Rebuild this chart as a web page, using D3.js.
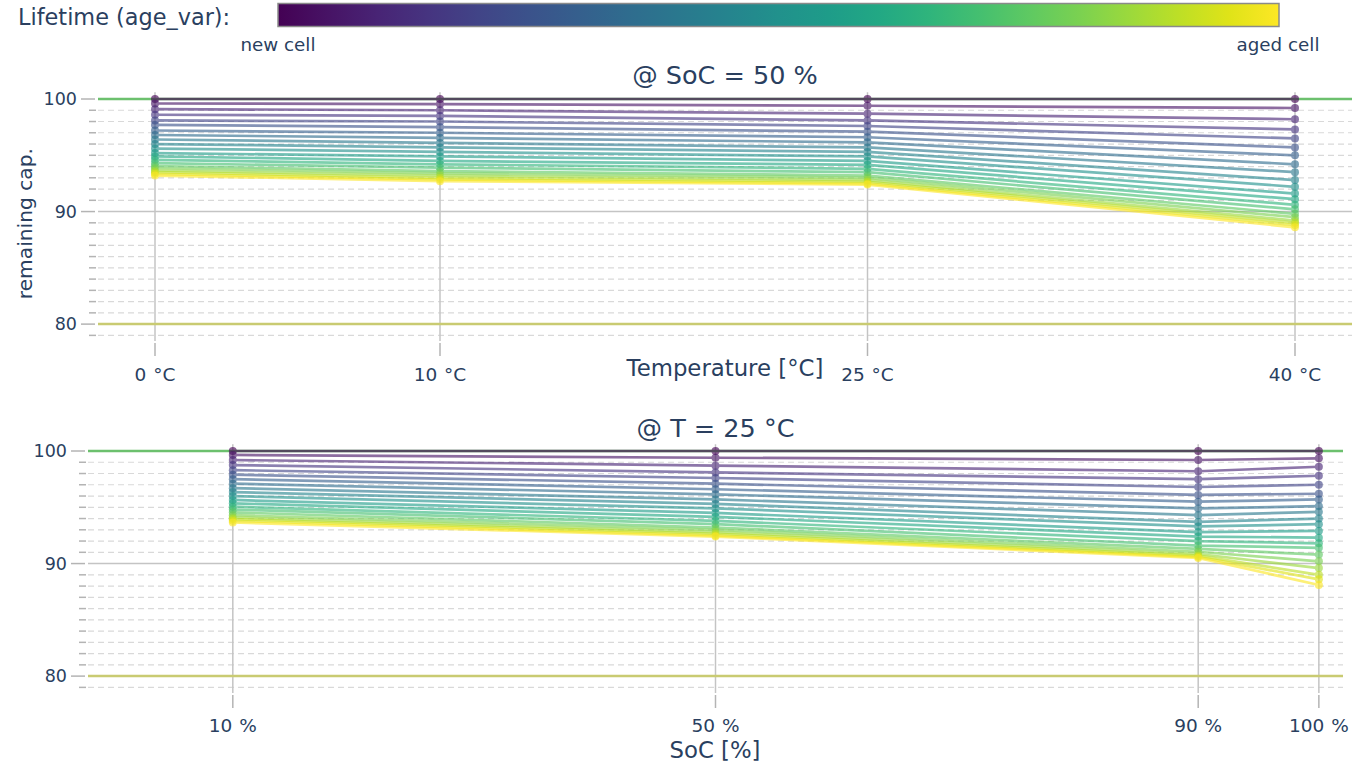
<!DOCTYPE html>
<html><head><meta charset="utf-8">
<script src="https://cdn.jsdelivr.net/npm/d3@7"></script>
<style>
html,body{margin:0;padding:0;background:#fff;}
svg text{font-family:"DejaVu Sans",Verdana,sans-serif;fill:#2a3f5f;}
</style></head>
<body><svg id="chart" width="1359" height="762"></svg>
<script>
// ---- data ----
const temps = [0, 10, 25, 40];
const tempLabels = ["0 °C", "10 °C", "25 °C", "40 °C"];
const socs = [10, 50, 90, 100];
const socLabels = ["10 %", "50 %", "90 %", "100 %"];
// remaining capacity [%], one entry per aging step (new cell -> aged cell)
const capAt0C  = [100, 99.6, 99.1, 98.6, 98.1, 97.7, 97.2, 96.8, 96.4, 96.0, 95.6, 95.2, 94.9, 94.6, 94.3, 94.05, 93.85, 93.65, 93.5, 93.35, 93.2];
const capAt10C = [100, 99.55, 99.0, 98.5, 98.0, 97.5, 97.0, 96.55, 96.1, 95.7, 95.3, 94.9, 94.5, 94.2, 93.9, 93.6, 93.4, 93.2, 93.0, 92.85, 92.7];
const capAt25C = [100, 99.4, 98.7, 98.1, 97.6, 97.1, 96.6, 96.15, 95.7, 95.3, 94.9, 94.5, 94.15, 93.8, 93.5, 93.2, 93.0, 92.8, 92.65, 92.5, 92.4];
const capAt40C = [100, 99.2, 98.2, 97.3, 96.5, 95.7, 95.0, 94.2, 93.5, 92.8, 92.2, 91.6, 91.1, 90.6, 90.2, 89.8, 89.5, 89.2, 89.0, 88.8, 88.6];
const capAtSoc10  = [100, 99.65, 99.2, 98.75, 98.3, 97.9, 97.5, 97.1, 96.7, 96.35, 96.0, 95.65, 95.35, 95.05, 94.8, 94.55, 94.3, 94.1, 93.95, 93.8, 93.65];
const capAtSoc50  = [100, 99.4, 98.7, 98.1, 97.6, 97.1, 96.6, 96.15, 95.7, 95.3, 94.9, 94.5, 94.15, 93.8, 93.5, 93.2, 93.0, 92.8, 92.65, 92.5, 92.4];
const capAtSoc90  = [100, 99.2, 98.2, 97.5, 96.8, 96.1, 95.5, 94.9, 94.3, 93.7, 93.3, 92.8, 92.4, 92.0, 91.6, 91.3, 91.05, 90.85, 90.7, 90.6, 90.5];
const capAtSoc100 = [100, 99.35, 98.6, 97.8, 97.0, 96.2, 95.7, 95.1, 94.6, 94.0, 93.5, 92.9, 92.3, 91.8, 91.4, 90.8, 90.2, 89.6, 89.0, 88.6, 88.1];
const yMajorTicks = [80, 90, 100];
const refLines = [100, 80];

const tempCols = [capAt0C, capAt10C, capAt25C, capAt40C];
const socCols = [capAtSoc10, capAtSoc50, capAtSoc90, capAtSoc100];
const nAges = capAt0C.length;

const svg = d3.select("#chart");
const color = i => d3.interpolateViridis(i / (nAges - 1));

// ---- colorbar header ----
svg.append("text").attr("x", 18).attr("y", 25).attr("font-size", 22.4).text("Lifetime (age_var):");
const defs = svg.append("defs");
const grad = defs.append("linearGradient").attr("id", "vir").attr("x1", "0%").attr("x2", "100%");
d3.range(0, 1.0001, 0.05).forEach(t => grad.append("stop").attr("offset", (t * 100) + "%").attr("stop-color", d3.interpolateViridis(t)));
svg.append("rect").attr("x", 278).attr("y", 3.5).attr("width", 1001).attr("height", 23)
  .attr("fill", "url(#vir)").attr("stroke", "#8a8a8a").attr("stroke-width", 1.5);
svg.append("text").attr("x", 278).attr("y", 51).attr("text-anchor", "middle").attr("font-size", 18.3).text("new cell");
svg.append("text").attr("x", 1278).attr("y", 51).attr("text-anchor", "middle").attr("font-size", 18.3).text("aged cell");

function panel(opt) {
  const {left, right, top, bottom, xDomain, xs, xLabels, cols, title, titleY, xTitle, xTitleX, xTitleY, tickLabelY, yTitle} = opt;
  const x = d3.scaleLinear().domain(xDomain).range([left, right]);
  const y = d3.scaleLinear().domain([78.5, 100.6]).range([bottom, top]);
  const g = svg.append("g");
  // minor dashed gridlines + minor ticks
  const minor = d3.range(79, 101).filter(v => v % 10 !== 0);
  g.selectAll(".mg").data(minor).join("line")
    .attr("x1", left).attr("x2", right).attr("y1", d => y(d)).attr("y2", d => y(d))
    .attr("stroke", "#d9d9d9").attr("stroke-width", 1.2).attr("stroke-dasharray", "6,4");
  g.selectAll(".mt").data(minor).join("line")
    .attr("x1", left - 9).attr("x2", left - 2).attr("y1", d => y(d)).attr("y2", d => y(d))
    .attr("stroke", "#b4b4b4").attr("stroke-width", 1.5);
  // major gridlines + ticks
  g.selectAll(".Mg").data(yMajorTicks).join("line")
    .attr("x1", left).attr("x2", right).attr("y1", d => y(d)).attr("y2", d => y(d))
    .attr("stroke", "#c4c4c4").attr("stroke-width", 1.5);
  g.selectAll(".Mt").data(yMajorTicks).join("line")
    .attr("x1", left - 17).attr("x2", left - 3).attr("y1", d => y(d)).attr("y2", d => y(d))
    .attr("stroke", "#b4b4b4").attr("stroke-width", 1.5);
  g.selectAll(".yl").data(yMajorTicks).join("text")
    .attr("x", left - 21).attr("y", d => y(d)).attr("dy", "0.36em").attr("text-anchor", "end")
    .attr("font-size", 17.5).text(d => d);
  // vertical gridlines + ticks + labels
  g.selectAll(".vg").data(xs).join("line")
    .attr("x1", d => x(d)).attr("x2", d => x(d)).attr("y1", top).attr("y2", bottom)
    .attr("stroke", "#c4c4c4").attr("stroke-width", 1.5);
  g.selectAll(".vt").data(xs).join("line")
    .attr("x1", d => x(d)).attr("x2", d => x(d)).attr("y1", bottom + 2).attr("y2", bottom + 15)
    .attr("stroke", "#b4b4b4").attr("stroke-width", 1.5);
  g.selectAll(".xl").data(xs).join("text")
    .attr("x", d => x(d)).attr("y", tickLabelY).attr("dy", "0.36em").attr("text-anchor", "middle")
    .attr("font-size", 18.5).attr("word-spacing", 1).text((d, i) => xLabels[i]);
  // reference lines
  g.append("line").attr("x1", left).attr("x2", right).attr("y1", y(refLines[0])).attr("y2", y(refLines[0]))
    .attr("stroke", "#6cc06e").attr("stroke-width", 2.5);
  g.append("line").attr("x1", left).attr("x2", right).attr("y1", y(refLines[1])).attr("y2", y(refLines[1]))
    .attr("stroke", "#c9cb72").attr("stroke-width", 2.5);
  // series
  const line = d3.line().x(d => x(d[0])).y(d => y(d[1]));
  for (let i = 0; i < nAges; i++) {
    const pts = xs.map((xv, k) => [xv, cols[k][i]]);
    const s = g.append("g").attr("opacity", 0.62);
    s.append("path").attr("d", line(pts)).attr("fill", "none").attr("stroke", color(i)).attr("stroke-width", 2.7);
    s.selectAll("circle").data(pts).join("circle")
      .attr("cx", d => x(d[0])).attr("cy", d => y(d[1])).attr("r", 4).attr("fill", color(i));
  }
  // titles
  svg.append("text").attr("x", (left + right) / 2).attr("y", titleY).attr("dy", "0.36em").attr("text-anchor", "middle")
    .attr("font-size", 25.5).text(title);
  svg.append("text").attr("x", xTitleX).attr("y", xTitleY).attr("dy", "0.36em").attr("text-anchor", "middle")
    .attr("font-size", 22.8).text(xTitle);
  if (yTitle) {
    svg.append("text").attr("transform", `translate(25,${(top + bottom) / 2 + 7}) rotate(-90)`)
      .attr("text-anchor", "middle").attr("dy", "0.36em").attr("font-size", 20.2).text(yTitle);
  }
}

panel({left: 98, right: 1352, top: 92.25, bottom: 341, xDomain: [-2, 42], xs: temps, xLabels: tempLabels,
  cols: tempCols, title: "@ SoC = 50 %", titleY: 75, xTitle: "Temperature [°C]", xTitleX: 725, xTitleY: 368,
  tickLabelY: 374, yTitle: "remaining cap."});
panel({left: 88, right: 1343, top: 444.25, bottom: 693, xDomain: [-2, 102], xs: socs, xLabels: socLabels,
  cols: socCols, title: "@ T = 25 °C", titleY: 428, xTitle: "SoC [%]", xTitleX: 715, xTitleY: 750,
  tickLabelY: 725, yTitle: null});
</script></body></html>
